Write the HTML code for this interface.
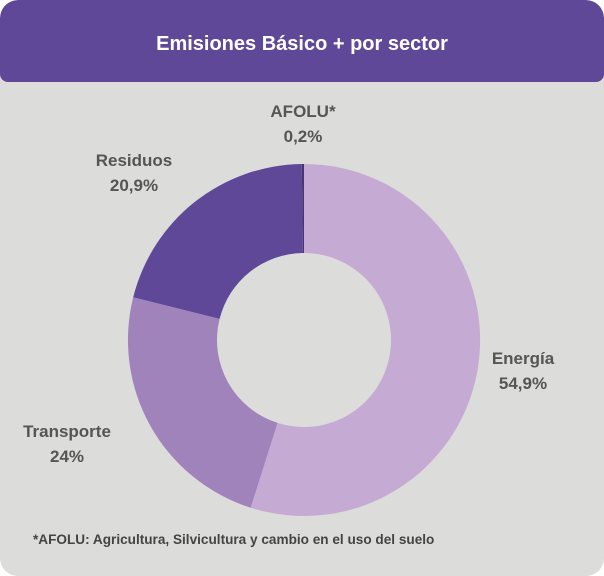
<!DOCTYPE html>
<html><head><meta charset="utf-8"><style>
body{margin:0;width:604px;height:576px;background:#fff;font-family:"Liberation Sans",sans-serif;}
.card{position:absolute;left:0;top:0;width:604px;height:576px;background:#dcdcdb;border-radius:18px;overflow:hidden;}
.hdr{position:absolute;left:0;top:0;width:604px;height:82px;background:#5f4897;border-radius:18px 18px 8px 8px;color:#fff;font-weight:bold;font-size:20px;text-align:center;line-height:88px;}
.l{position:absolute;color:#555;font-weight:bold;font-size:17px;line-height:25px;text-align:center;}
.fn{position:absolute;left:33px;top:532px;color:#444;font-weight:bold;font-size:13.6px;}
</style></head><body>
<div class="card">
<div class="hdr">Emisiones Básico + por sector</div>
<svg width="604" height="576" style="position:absolute;left:0;top:0">
<path d="M304,164 A176,176 0 1 1 250.7,507.7 L277.6,422.9 A87,87 0 1 0 304,253 Z" fill="#c5abd4"/>
<path d="M250.7,507.7 A176,176 0 0 1 133.2,297.3 L219.6,318.9 A87,87 0 0 0 277.6,422.9 Z" fill="#a083bb"/>
<path d="M133.2,297.3 A176,176 0 0 1 301.8,164 L302.9,253 A87,87 0 0 0 219.6,318.9 Z" fill="#5f4897"/>
<path d="M301.8,164 L304,164 L304,253 L302.9,253 Z" fill="#4a3578"/>
</svg>
<div class="l" style="left:253px;top:99px;width:100px">AFOLU*<br>0,2%</div>
<div class="l" style="left:84px;top:148px;width:100px">Residuos<br>20,9%</div>
<div class="l" style="left:473px;top:346px;width:100px">Energía<br>54,9%</div>
<div class="l" style="left:17px;top:419px;width:100px">Transporte<br>24%</div>
<div class="fn">*AFOLU: Agricultura, Silvicultura y cambio en el uso del suelo</div>
</div>
</body></html>
